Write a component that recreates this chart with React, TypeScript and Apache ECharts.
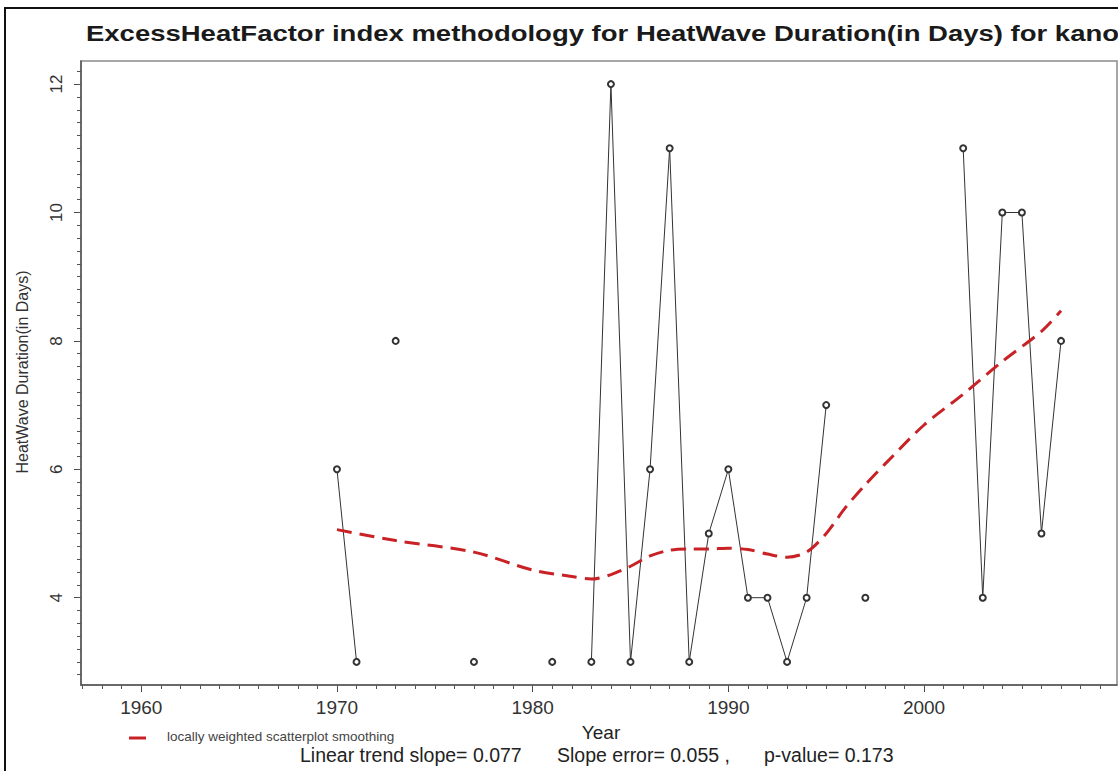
import React, { useEffect, useRef } from "react";
import * as echarts from "echarts";

// Observed heat-wave durations (days) per year
const obsYears = [1970, 1971, 1973, 1977, 1981, 1983, 1984, 1985, 1986, 1987, 1988, 1989, 1990, 1991, 1992, 1993, 1994, 1995, 1997, 2002, 2003, 2004, 2005, 2006, 2007];
const obsDays = [6, 3, 8, 3, 3, 3, 12, 3, 6, 11, 3, 5, 6, 4, 4, 3, 4, 7, 4, 11, 4, 10, 10, 5, 8];

// LOESS smoothing curve
const loessYears = [1970, 1973, 1977, 1980, 1982, 1983, 1984, 1985, 1986, 1987, 1988, 1989, 1990, 1991, 1992, 1993, 1994, 1995, 1996, 1997, 1998, 2000, 2002, 2004, 2006, 2007];
const loessDays = [5.06, 4.89, 4.71, 4.43, 4.33, 4.29, 4.36, 4.49, 4.65, 4.74, 4.76, 4.76, 4.77, 4.75, 4.68, 4.63, 4.71, 5.0, 5.41, 5.76, 6.08, 6.69, 7.17, 7.68, 8.15, 8.47];

// Axis ticks
const xTickLabels = [1960, 1970, 1980, 1990, 2000];
const yTickLabels = [4, 6, 8, 10, 12];

// Linear trend statistics
const trendSlope = "0.077";
const slopeError = "0.055";
const pValue = "0.173";

const X_MIN = 1956.92;
const X_MAX = 2009.86;
const Y_MIN = 2.64;
const Y_MAX = 12.36;

const FONT = "'Liberation Sans', Arial, Helvetica, sans-serif";
const TITLE = "ExcessHeatFactor index methodology for HeatWave Duration(in Days) for kano";

export default function App() {
  const ref = useRef<HTMLDivElement>(null);

  useEffect(() => {
    if (!ref.current) return;
    const chart = echarts.init(ref.current, null, { renderer: "svg" });

    // break the line wherever a year is missing
    const obsData: (number | string)[][] = [];
    for (let i = 0; i < obsYears.length; i++) {
      if (i > 0 && obsYears[i] - obsYears[i - 1] > 1) obsData.push([obsYears[i - 1] + 1, "-"]);
      obsData.push([obsYears[i], obsDays[i]]);
    }
    const loessData = loessYears.map((y, i) => [y, loessDays[i]]);

    const minorYears: number[] = [];
    for (let y = Math.ceil(X_MIN); y <= Math.floor(X_MAX); y++) minorYears.push(y);
    const minorDays: number[] = [];
    for (let k = Math.ceil(Y_MIN * 5); k <= Math.floor(Y_MAX * 5); k++) minorDays.push(k / 5);

    const option: any = {
      animation: false,
      backgroundColor: "#ffffff",
      grid: {
        left: 81,
        right: 1,
        top: 61,
        bottom: 86,
        show: true,
        borderColor: "#8a8a8a",
        borderWidth: 1.5,
        backgroundColor: "transparent",
      },
      xAxis: [
        {
          type: "value",
          min: X_MIN,
          max: X_MAX,
          position: "bottom",
          axisLine: { show: true, onZero: false, lineStyle: { color: "#555", width: 1.5 } },
          axisTick: { show: true, customValues: xTickLabels, length: 7, lineStyle: { color: "#444", width: 1 } },
          axisLabel: {
            customValues: xTickLabels,
            formatter: (v: number) => String(v),
            fontSize: 19,
            color: "#333",
            fontFamily: FONT,
            margin: 13,
          },
          splitLine: { show: false },
        },
        {
          type: "value",
          min: X_MIN,
          max: X_MAX,
          position: "bottom",
          axisLine: { show: false, onZero: false },
          axisTick: { show: true, customValues: minorYears, length: 4, lineStyle: { color: "#555", width: 1 } },
          axisLabel: { show: false },
          splitLine: { show: false },
        },
      ],
      yAxis: [
        {
          type: "value",
          min: Y_MIN,
          max: Y_MAX,
          position: "left",
          axisLine: { show: true, onZero: false, lineStyle: { color: "#555", width: 1.5 } },
          axisTick: { show: true, customValues: yTickLabels, length: 7, lineStyle: { color: "#444", width: 1 } },
          axisLabel: {
            customValues: yTickLabels,
            formatter: (v: number) => String(v),
            rotate: 90,
            fontSize: 17,
            color: "#333",
            fontFamily: FONT,
            margin: 16,
          },
          splitLine: { show: false },
        },
        {
          type: "value",
          min: Y_MIN,
          max: Y_MAX,
          position: "left",
          axisLine: { show: false, onZero: false },
          axisTick: { show: true, customValues: minorDays, length: 4, lineStyle: { color: "#555", width: 1 } },
          axisLabel: { show: false },
          splitLine: { show: false },
        },
      ],
      series: [
        {
          name: "HeatWave Duration",
          type: "line",
          xAxisIndex: 0,
          yAxisIndex: 0,
          data: obsData,
          connectNulls: false,
          symbol: "emptyCircle",
          symbolSize: 6,
          showSymbol: true,
          showAllSymbol: true,
          lineStyle: { color: "#333", width: 1 },
          itemStyle: { color: "#333", borderColor: "#333", borderWidth: 1 },
          z: 3,
        },
        {
          name: "locally weighted scatterplot smoothing",
          type: "line",
          xAxisIndex: 0,
          yAxisIndex: 0,
          data: loessData,
          smooth: 0.3,
          symbol: "none",
          lineStyle: { color: "#c82226", width: 3, type: [15, 8] },
          z: 4,
        },
      ],
      graphic: [
        {
          type: "rect",
          silent: true,
          shape: { x: 5, y: 8, width: 1300, height: 900 },
          style: { fill: "none", stroke: "#111", lineWidth: 2 },
        },
        {
          type: "text",
          silent: true,
          x: 86,
          y: 33,
          scaleX: 1.25,
          style: {
            text: TITLE,
            fontSize: 22,
            fontWeight: "bold",
            fontFamily: FONT,
            fill: "#1a1a1a",
            align: "left",
            verticalAlign: "middle",
          },
        },
        {
          type: "text",
          silent: true,
          x: 22,
          y: 372,
          rotation: Math.PI / 2,
          style: {
            text: "HeatWave Duration(in Days)",
            fontSize: 16,
            fontFamily: FONT,
            fill: "#333",
            align: "center",
            verticalAlign: "middle",
          },
        },
        {
          type: "line",
          silent: true,
          shape: { x1: 129, y1: 738, x2: 146, y2: 738 },
          style: { stroke: "#c82226", lineWidth: 3 },
        },
        {
          type: "text",
          silent: true,
          x: 167,
          y: 736,
          style: {
            text: "locally weighted scatterplot smoothing",
            fontSize: 13.5,
            fontFamily: FONT,
            fill: "#444",
            align: "left",
            verticalAlign: "middle",
          },
        },
        {
          type: "text",
          silent: true,
          x: 601,
          y: 732,
          style: { text: "Year", fontSize: 19, fontFamily: FONT, fill: "#222", align: "center", verticalAlign: "middle" },
        },
        {
          type: "text",
          silent: true,
          x: 300,
          y: 755,
          style: { text: `Linear trend slope= ${trendSlope}`, fontSize: 19.5, fontFamily: FONT, fill: "#222", align: "left", verticalAlign: "middle" },
        },
        {
          type: "text",
          silent: true,
          x: 557,
          y: 755,
          style: { text: `Slope error= ${slopeError} ,`, fontSize: 19.5, fontFamily: FONT, fill: "#222", align: "left", verticalAlign: "middle" },
        },
        {
          type: "text",
          silent: true,
          x: 764,
          y: 755,
          style: { text: `p-value= ${pValue}`, fontSize: 19.5, fontFamily: FONT, fill: "#222", align: "left", verticalAlign: "middle" },
        },
      ],
    };

    chart.setOption(option);
    return () => chart.dispose();
  }, []);

  return (
    <div
      ref={ref}
      style={{ position: "absolute", left: 0, top: 0, width: 1118, height: 771, background: "#fff" }}
    />
  );
}
